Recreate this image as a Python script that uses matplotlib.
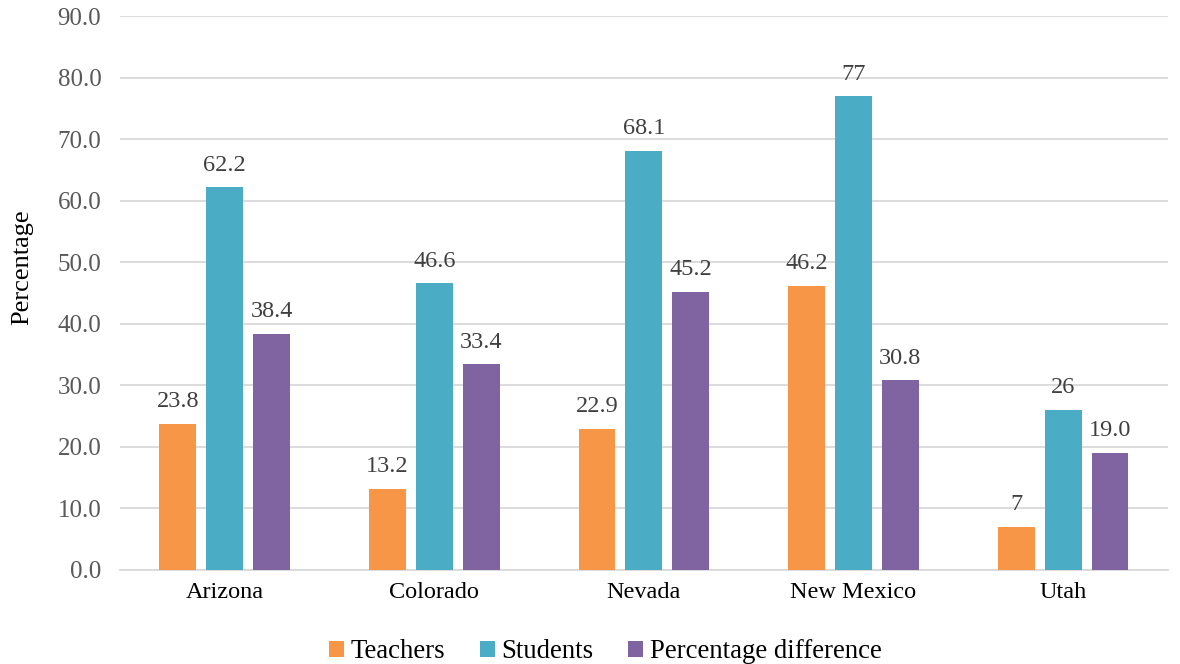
import matplotlib
matplotlib.use("Agg")
import matplotlib.pyplot as plt
import numpy as np

states = ["Arizona", "Colorado", "Nevada", "New Mexico", "Utah"]
teachers = [23.8, 13.2, 22.9, 46.2, 7]
students = [62.2, 46.6, 68.1, 77, 26]
diff = [38.4, 33.4, 45.2, 30.8, 19.0]
teachers_lbl = ["23.8", "13.2", "22.9", "46.2", "7"]
students_lbl = ["62.2", "46.6", "68.1", "77", "26"]
diff_lbl = ["38.4", "33.4", "45.2", "30.8", "19.0"]
series_names = ["Teachers", "Students", "Percentage difference"]
colors = ["#F79646", "#4BACC6", "#8064A2"]

plt.rcParams['font.family'] = ['Liberation Serif', 'DejaVu Serif']

fig = plt.figure(figsize=(11.8, 6.64), dpi=100)
ax = fig.add_axes([0.1017, 0.1416, 0.888, 0.834])

x = np.arange(len(states))
w = 0.176
gap = 0.224
for i, (vals, lbls) in enumerate([(teachers, teachers_lbl), (students, students_lbl), (diff, diff_lbl)]):
    pos = x + (i - 1) * gap
    ax.bar(pos, vals, width=w, color=colors[i], label=series_names[i], zorder=3)
    for p, v, l in zip(pos, vals, lbls):
        ax.text(p, v + 1.9, l, ha='center', va='bottom', fontsize=17.5, color='#404040')

ax.set_xlim(-0.5, len(states) - 0.5)
ax.set_ylim(0, 90)
ax.set_yticks(np.arange(0, 91, 10))
ax.set_yticklabels([f"{v:.1f}" for v in np.arange(0, 91, 10)])
ax.set_xticks(x)
ax.set_xticklabels(states)
ax.tick_params(axis='y', length=0, labelsize=18, colors='#595959', pad=13.5)
ax.tick_params(axis='x', length=0, labelsize=17.5, colors='#000000', pad=9)
ax.grid(axis='y', color='#D9D9D9', linewidth=1.3, zorder=0)
for s in ['top', 'right', 'left']:
    ax.spines[s].set_visible(False)
ax.spines['bottom'].set_color('#D9D9D9')
ax.spines['bottom'].set_linewidth(1.3)
ax.set_ylabel("Percentage", fontsize=19, color='#000000', va='center')
ax.yaxis.set_label_coords(-0.093, 0.547)

ax.legend(loc='center', bbox_to_anchor=(0.463, -0.148), ncol=3, frameon=False,
          fontsize=19.3, handlelength=0.55, handleheight=0.55, handletextpad=0.25, columnspacing=1.3)

fig.savefig("out.png", dpi=100)
